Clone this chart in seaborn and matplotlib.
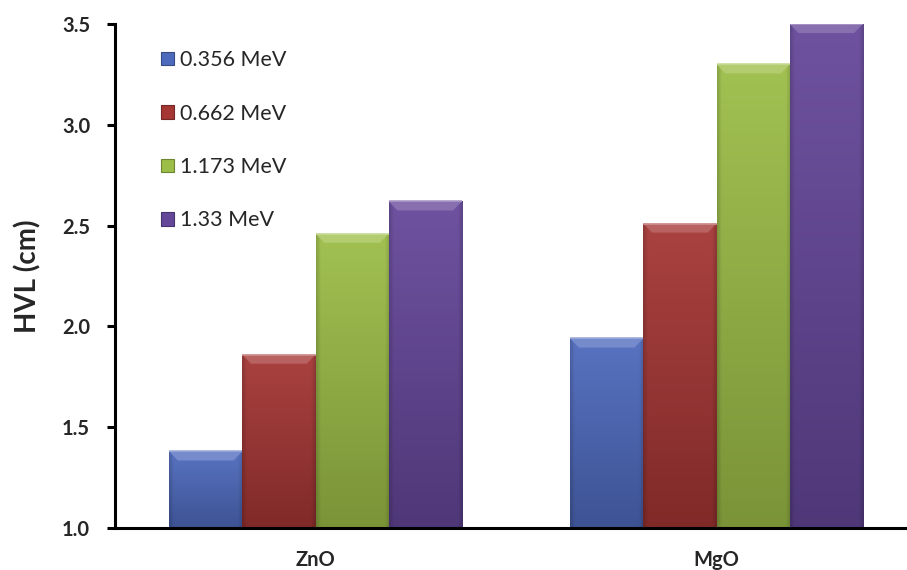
import numpy as np
import pandas as pd
import matplotlib
matplotlib.use("Agg")
import matplotlib.pyplot as plt
import seaborn as sns
from matplotlib.colors import to_rgb
from matplotlib.patches import Polygon, Patch
from matplotlib.ticker import FormatStrFormatter

# Half-value layer of each shield material at four gamma energies
materials = ["ZnO", "MgO"]
energies = ["0.356 MeV", "0.662 MeV", "1.173 MeV", "1.33 MeV"]
hvl_zno = [1.38, 1.86, 2.46, 2.62]
hvl_mgo = [1.94, 2.51, 3.30, 3.50]
y_ticks = [1.0, 1.5, 2.0, 2.5, 3.0, 3.5]
bar_colors = ["#4E6ABD", "#A43634", "#9CBD47", "#65479A"]

df = pd.DataFrame({
    "Material": np.repeat(materials, len(energies)),
    "Energy": energies * len(materials),
    "HVL": hvl_zno + hvl_mgo,
})

sns.set_theme(style="white")
plt.rcParams["font.family"] = ["Lato", "DejaVu Sans"]

fig = plt.figure(figsize=(9.07, 5.70), dpi=100)
ax = fig.add_axes([115 / 907, 42 / 570, 802 / 907, 504 / 570])

sns.barplot(data=df, x="Material", y="HVL", hue="Energy", order=materials,
            hue_order=energies, palette=bar_colors, width=0.73, gap=0,
            saturation=1, legend=False, ax=ax)


def tint(c, f):
    r = np.array(to_rgb(c))
    return tuple(np.clip(r + (1 - r) * f, 0, 1)) if f >= 0 else tuple(r * (1 + f))


ymin = y_ticks[0]
bevel_h = 0.045
bevel_w = 0.022
for bar in list(ax.patches):
    col = bar.get_facecolor()[:3]
    x, w, h = bar.get_x(), bar.get_width(), bar.get_height()
    # vertical gradient, slightly darker towards the side edges
    ny, nx = 200, 60
    t = np.linspace(0, 1, ny)[:, None]
    s = np.linspace(0, 1, nx)[None, :]
    edge = np.minimum(s, 1 - s)
    side = np.clip(edge / 0.06, 0, 1)
    dark = np.array(tint(col, -0.22))
    light = np.array(tint(col, 0.06))
    img = dark[None, None, :] + (light - dark)[None, None, :] * t[..., None]
    img = img * (0.85 + 0.15 * side[..., None])
    img = np.clip(img, 0, 1)
    im = ax.imshow(img, extent=[x, x + w, ymin, h], origin="lower",
                   aspect="auto", zorder=2, interpolation="bilinear")
    im.set_clip_path(bar)
    bar.set_facecolor("none")
    bar.set_edgecolor("none")
    # bevelled top face
    top = Polygon([(x, h), (x + w, h), (x + w - bevel_w, h - bevel_h),
                   (x + bevel_w, h - bevel_h)], closed=True,
                  facecolor=tint(col, 0.22), edgecolor="none", zorder=3)
    ax.add_patch(top)
    ax.plot([x, x + w], [h, h], color=tint(col, 0.45), lw=1.2, zorder=4,
            solid_capstyle="butt")

ax.set_xlim(-0.5, 1.5)
ax.set_ylim(y_ticks[0], y_ticks[-1])
ax.set_yticks(y_ticks)
ax.yaxis.set_major_formatter(FormatStrFormatter("%.1f"))

ax.set_xticks([-0.5, 0.5, 1.5])
ax.set_xticklabels([])
ax.set_xticks([0, 1], minor=True)
ax.set_xticklabels(materials, minor=True)
ax.tick_params(axis="x", which="major", direction="out", length=6, width=2.2,
               color="black")
ax.tick_params(axis="x", which="minor", length=0, pad=16, labelsize=14.5)
ax.tick_params(axis="y", direction="out", length=6, width=2.2, color="black",
               pad=12, labelsize=14.5, left=True)
for lab in ax.get_xticklabels(minor=True) + ax.get_yticklabels():
    lab.set_fontweight("bold")

ax.set_xlabel("")
ax.set_ylabel("HVL (cm)", fontsize=20, fontweight="bold", labelpad=15)

for side_name in ["top", "right"]:
    ax.spines[side_name].set_visible(False)
for side_name in ["left", "bottom"]:
    ax.spines[side_name].set_linewidth(2.2)
    ax.spines[side_name].set_color("black")

handles = [Patch(facecolor=c, edgecolor=tint(c, -0.3), linewidth=0.8)
           for c in bar_colors]
ax.legend(handles, energies, loc="upper left", bbox_to_anchor=(0.057, 0.948),
          frameon=False, fontsize=15.5, handlelength=0.6, handleheight=0.6,
          handletextpad=0.3, labelspacing=1.55, borderaxespad=0, borderpad=0)

fig.savefig("out.png", dpi=100)
